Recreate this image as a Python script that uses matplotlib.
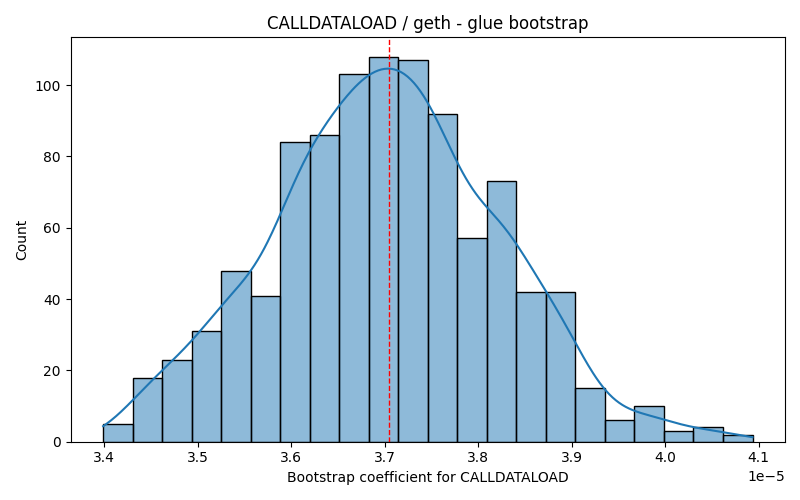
import numpy as np
import matplotlib
matplotlib.use("Agg")
import matplotlib.pyplot as plt
from matplotlib.colors import to_rgba

# histogram (values in units of 1e-5)
bin_start = 3.3989
bin_width = 0.03157
counts = [5, 18, 23, 31, 48, 41, 84, 86, 103, 108, 107,
          92, 57, 73, 42, 42, 15, 6, 10, 3, 4, 2]
mean_value = 3.7047
scale = 1e-5

counts = np.array(counts, dtype=float)
edges = (bin_start + bin_width * np.arange(len(counts) + 1)) * scale
centers = (edges[:-1] + edges[1:]) / 2
width = bin_width * scale

# kde from the binned counts (gaussian kernel, scott bandwidth)
n = counts.sum()
mu = np.average(centers, weights=counts)
sd = np.sqrt(np.average((centers - mu) ** 2, weights=counts))
bw = sd * n ** (-1 / 5)
xs = np.linspace(edges[0], edges[-1], 400)
dens = (counts[None, :] * np.exp(-0.5 * ((xs[:, None] - centers[None, :]) / bw) ** 2)).sum(axis=1)
dens = dens / (n * bw * np.sqrt(2 * np.pi))
kde_counts = dens * n * width

fig, ax = plt.subplots(figsize=(8, 5), dpi=100)
ax.bar(edges[:-1], counts, width=width, align='edge',
       facecolor=to_rgba('C0', 0.5), edgecolor='black', linewidth=1)
ax.plot(xs, kde_counts, color='C0', linewidth=1.5)
ax.axvline(mean_value * scale, color='red', linestyle='--', linewidth=1)

ax.set_title('CALLDATALOAD / geth - glue bootstrap')
ax.set_xlabel('Bootstrap coefficient for CALLDATALOAD')
ax.set_ylabel('Count')

plt.tight_layout()
plt.savefig('out.png')
